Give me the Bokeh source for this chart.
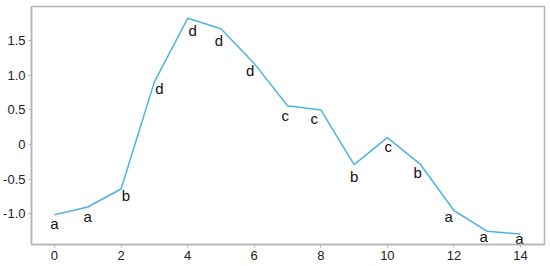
from bokeh.plotting import figure
from bokeh.models import ColumnDataSource, Range1d, FixedTicker
from bokeh.core.properties import value
from bokeh.embed import file_html
from bokeh.resources import INLINE

xs = list(range(15))
ys = [-1.01, -0.90, -0.64, 0.90, 1.82, 1.67, 1.17, 0.56, 0.50, -0.29, 0.10, -0.29, -0.95, -1.25, -1.29]
letters = ["a", "a", "b", "d", "d", "d", "d", "c", "c", "b", "c", "b", "a", "a", "a"]
label_x = [0, 1, 2.15, 3.15, 4.15, 4.94, 5.88, 6.93, 7.8, 9, 10.03, 10.91, 11.84, 12.89, 13.97]
label_y = [-1.21, -1.11, -0.81, 0.73, 1.57, 1.43, 1.0, 0.34, 0.30, -0.53, -0.10, -0.47, -1.11, -1.39, -1.43]
x_ticks = [0, 2, 4, 6, 8, 10, 12, 14]
y_ticks = [-1.0, -0.5, 0, 0.5, 1.0, 1.5]
y_tick_labels = {-1.0: "-1.0", -0.5: "-0.5", 0: "0", 0.5: "0.5", 1.0: "1.0", 1.5: "1.5"}

src = ColumnDataSource(dict(x=xs, y=ys))
lab = ColumnDataSource(dict(x=label_x, y=label_y, t=letters))

p = figure(width=546, height=262, output_backend="svg", toolbar_location=None,
           x_range=Range1d(-0.69, 14.72), y_range=Range1d(-1.44, 1.99),
           min_border_left=28, min_border_right=2, min_border_top=6, min_border_bottom=16)
p.line("x", "y", source=src, line_color="#4db3e2", line_width=1.5)
p.text("x", "y", text="t", source=lab, text_align="center", text_baseline="alphabetic",
       y_offset=-5, text_font=value("Liberation Sans"), text_font_size="15px", text_color="#111111")

p.xgrid.visible = False
p.ygrid.visible = False
p.outline_line_color = "#b5b5b5"
p.outline_line_width = 1.5
for ax in (p.xaxis[0], p.yaxis[0]):
    ax.axis_line_color = "#b5b5b5"
    ax.axis_line_width = 1.5
    ax.major_tick_line_color = "#b5b5b5"
    ax.major_tick_out = 3
    ax.major_tick_in = 0
    ax.minor_tick_line_color = None
    ax.major_label_text_font = "Liberation Sans"
    ax.major_label_text_font_size = "13px"
    ax.major_label_text_color = "#222222"
    ax.major_label_standoff = 3
p.xaxis.ticker = FixedTicker(ticks=x_ticks)
p.yaxis.ticker = FixedTicker(ticks=y_ticks)
p.yaxis.major_label_overrides = y_tick_labels

open("out.html", "w").write(file_html(p, INLINE))
